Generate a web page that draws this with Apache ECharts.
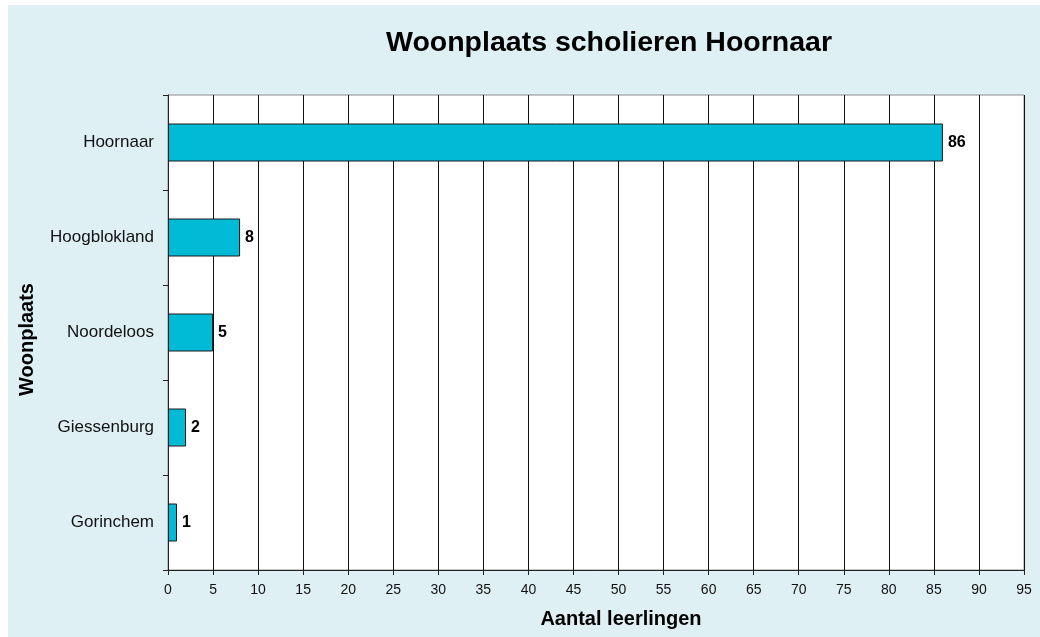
<!DOCTYPE html>
<html>
<head>
<meta charset="utf-8">
<script src="https://cdn.jsdelivr.net/npm/echarts@6/dist/echarts.min.js"></script>
<style>
  html, body { margin: 0; padding: 0; background: #ffffff; }
  #chart { position: absolute; left: 8px; top: 5px; width: 1032px; height: 632px; background: #dff0f5; }
</style>
</head>
<body>
<div id="chart"></div>
<script>
const titleText = 'Woonplaats scholieren Hoornaar';
const categories = ['Hoornaar', 'Hoogblokland', 'Noordeloos', 'Giessenburg', 'Gorinchem'];
const values = [86, 8, 5, 2, 1];
const xAxisName = 'Aantal leerlingen';
const yAxisName = 'Woonplaats';
const xMin = 0, xMax = 95, xStep = 5;

const chart = echarts.init(document.getElementById('chart'), null, { renderer: 'canvas' });
const font = '"Liberation Sans", Arial, sans-serif';
chart.setOption({
  animation: false,
  backgroundColor: '#dff0f5',
  title: {
    text: titleText,
    left: 378,
    top: 24,
    padding: 0,
    textStyle: { fontFamily: font, fontSize: 28.5, fontWeight: 'bold', color: '#000' }
  },
  grid: {
    left: 160, right: 16, top: 90, bottom: 67,
    show: true, backgroundColor: '#ffffff', borderColor: '#8c8c8c', borderWidth: 1,
    containLabel: false
  },
  xAxis: {
    type: 'value',
    min: xMin, max: xMax, interval: xStep,
    name: xAxisName,
    nameLocation: 'middle',
    nameGap: 39,
    nameTextStyle: { fontFamily: font, fontSize: 20, fontWeight: 'bold', color: '#000', padding: [0, 0, 0, 50] },
    axisLine: { show: true, lineStyle: { color: '#222', width: 1 } },
    axisTick: { show: true, length: 5, inside: false, lineStyle: { color: '#222' } },
    axisLabel: { fontFamily: font, fontSize: 14, color: '#111', margin: 13, showMaxLabel: true, showMinLabel: true },
    splitLine: { show: true, lineStyle: { color: '#111', width: 1 } }
  },
  yAxis: {
    type: 'category',
    data: categories,
    inverse: true,
    name: yAxisName,
    nameLocation: 'middle',
    nameGap: 131,
    nameRotate: 90,
    nameTextStyle: { fontFamily: font, fontSize: 20, fontWeight: 'bold', color: '#000', padding: [0, 14, 0, 0] },
    axisLine: { show: true, lineStyle: { color: '#222', width: 1 } },
    axisTick: { show: true, length: 5, inside: false, alignWithLabel: false, lineStyle: { color: '#222' } },
    axisLabel: { fontFamily: font, fontSize: 17, color: '#111', margin: 14 },
    splitLine: { show: false }
  },
  series: [{
    type: 'bar',
    data: values,
    barWidth: 38,
    itemStyle: { color: '#00bad6', borderColor: '#1a1a1a', borderWidth: 1 },
    label: {
      show: true, position: 'right', distance: 5,
      fontFamily: font, fontSize: 16, fontWeight: 'bold', color: '#000'
    }
  }]
});
</script>
</body>
</html>
